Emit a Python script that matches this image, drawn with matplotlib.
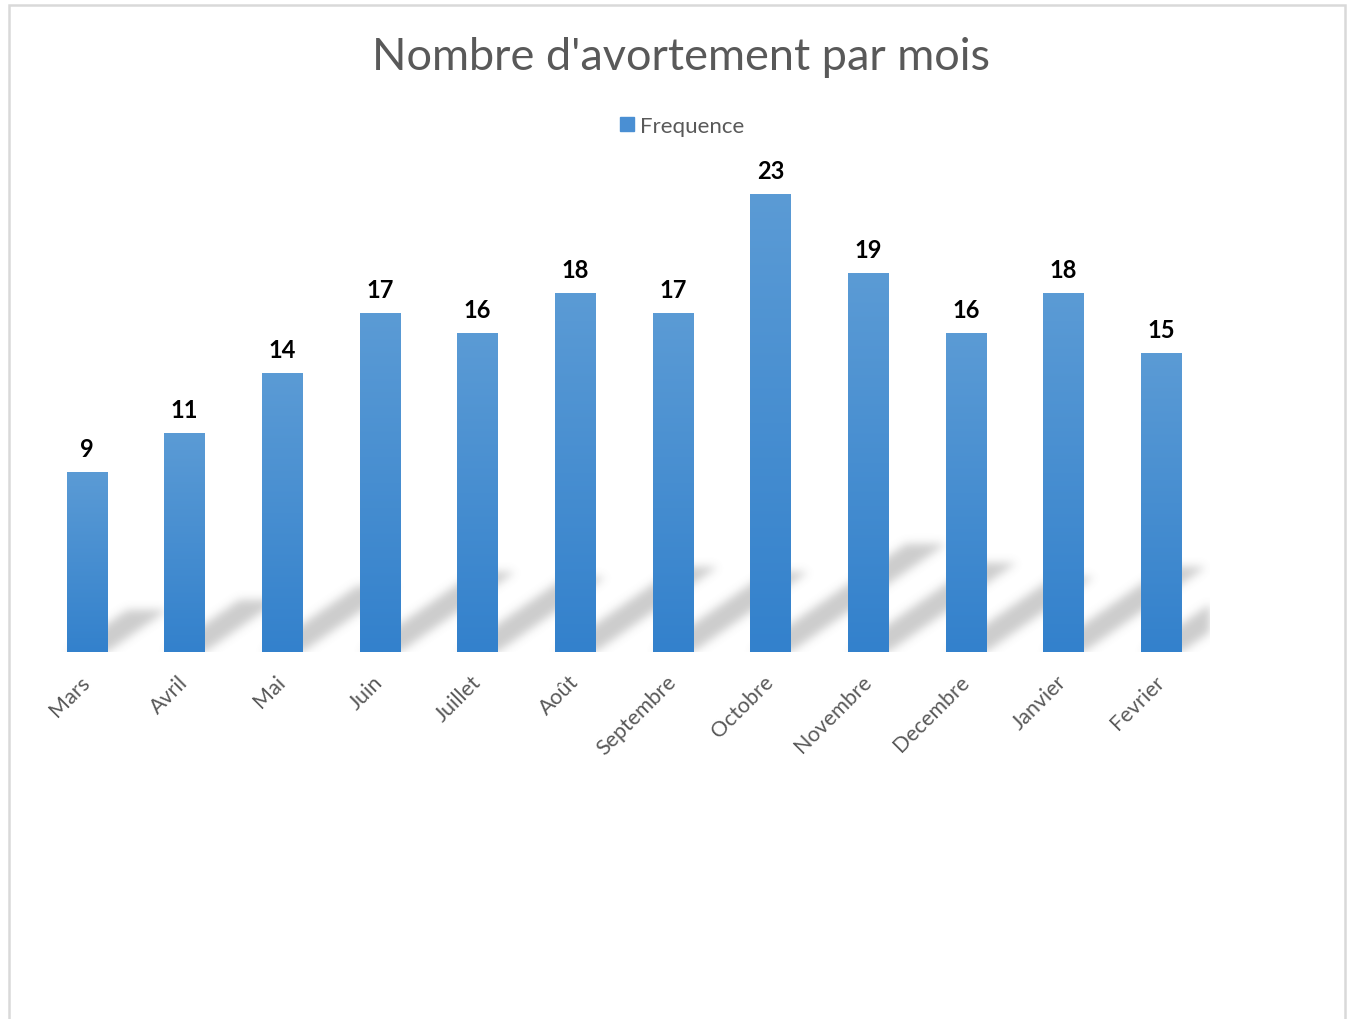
import matplotlib
matplotlib.use("Agg")
import matplotlib.pyplot as plt
import numpy as np
from matplotlib.patches import Rectangle
from matplotlib.lines import Line2D

mois = ["Mars", "Avril", "Mai", "Juin", "Juillet", "Août", "Septembre",
        "Octobre", "Novembre", "Decembre", "Janvier", "Fevrier"]
frequence = [9, 11, 14, 17, 16, 18, 17, 23, 19, 16, 18, 15]

plt.rcParams['font.family'] = ['Lato', 'DejaVu Sans']
gris = '#595959'
haut = np.array([91, 155, 213]) / 255
bas = np.array([51, 129, 204]) / 255

fig = plt.figure(figsize=(13.52, 10.2), dpi=100)
ax = fig.add_axes([38 / 1352, 367 / 1020, 1172 / 1352, 497.5 / 1020])

x = np.arange(len(mois))
bars = ax.bar(x, frequence, width=0.41, color=bas, zorder=3)
ax.set_xlim(-0.5, len(mois) - 0.5)
ax.set_ylim(0, 25)

# degrade vertical dans chaque barre
grad = np.linspace(0, 1, 256)[:, None, None]
grad_img = bas + (haut - bas) * grad
for b in bars:
    ax.imshow(grad_img, extent=(b.get_x(), b.get_x() + b.get_width(), 0, b.get_height()),
              origin='lower', aspect='auto', interpolation='bilinear', zorder=4)

# ombres portees (parallelogrammes flous)
fig.canvas.draw()
W = int(round(ax.bbox.width))
H = int(round(ax.bbox.height))
ppx = ax.bbox.width / (ax.get_xlim()[1] - ax.get_xlim()[0])
ppy = ax.bbox.height / (ax.get_ylim()[1] - ax.get_ylim()[0])
cx = np.arange(W) + 0.5
uy = np.arange(H) + 0.5
XX, UU = np.meshgrid(cx, uy)
masque = np.zeros((H, W))
cisaille = 1.44
frac = 0.236
for b in bars:
    x0 = (b.get_x() - ax.get_xlim()[0]) * ppx
    x1 = x0 + b.get_width() * ppx
    h = b.get_height() * ppy
    xs = XX - cisaille * UU
    m = (UU <= frac * h) & (xs >= x0) & (xs <= x1)
    masque[m] = 1.0

sigma = 4.5
k = np.arange(-15, 16)
noyau = np.exp(-k ** 2 / (2 * sigma ** 2))
noyau /= noyau.sum()
masque = np.apply_along_axis(lambda r: np.convolve(r, noyau, mode='same'), 1, masque)
masque = np.apply_along_axis(lambda c: np.convolve(c, noyau, mode='same'), 0, masque)

ombre = np.zeros((H, W, 4))
ombre[..., :3] = 0.45
ombre[..., 3] = np.clip(masque, 0, 1) * 0.36
ax.imshow(ombre, extent=(*ax.get_xlim(), *ax.get_ylim()), origin='lower',
          aspect='auto', interpolation='bilinear', zorder=2)
ax.set_xlim(-0.5, len(mois) - 0.5)
ax.set_ylim(0, 25)

ax.bar_label(bars, labels=[str(v) for v in frequence], padding=9,
             fontsize=17, fontweight='bold', color='black', zorder=5)

ax.set_xticks(x)
ax.set_xticklabels(mois, rotation=45, ha='right', rotation_mode='anchor',
                   fontsize=15.5, color=gris)
for t in ax.get_xticklabels():
    t.set_va('center')
ax.tick_params(axis='x', length=0, pad=19)
ax.set_yticks([])
for s in ax.spines.values():
    s.set_visible(False)

fig.text(0.5035, 1 - 57 / 1020, "Nombre d'avortement par mois", ha='center', va='center',
         fontsize=32.5, color=gris)

poignee = Line2D([], [], marker='s', linestyle='none', markersize=10,
                 markerfacecolor='#4a8fd3', markeredgecolor='#4a8fd3')
fig.legend([poignee], ["Frequence"], loc='center', bbox_to_anchor=(681 / 1352, 1 - 127 / 1020),
           frameon=False, fontsize=16, labelcolor=gris, handletextpad=0.2,
           handlelength=0.8)

fig.patches.append(Rectangle((9 / 1352, -0.05), 1336 / 1352, 1.05 - 6 / 1020,
                             transform=fig.transFigure, fill=False,
                             edgecolor='#d9d9d9', linewidth=1.8))

fig.savefig("out.png", dpi=100)
